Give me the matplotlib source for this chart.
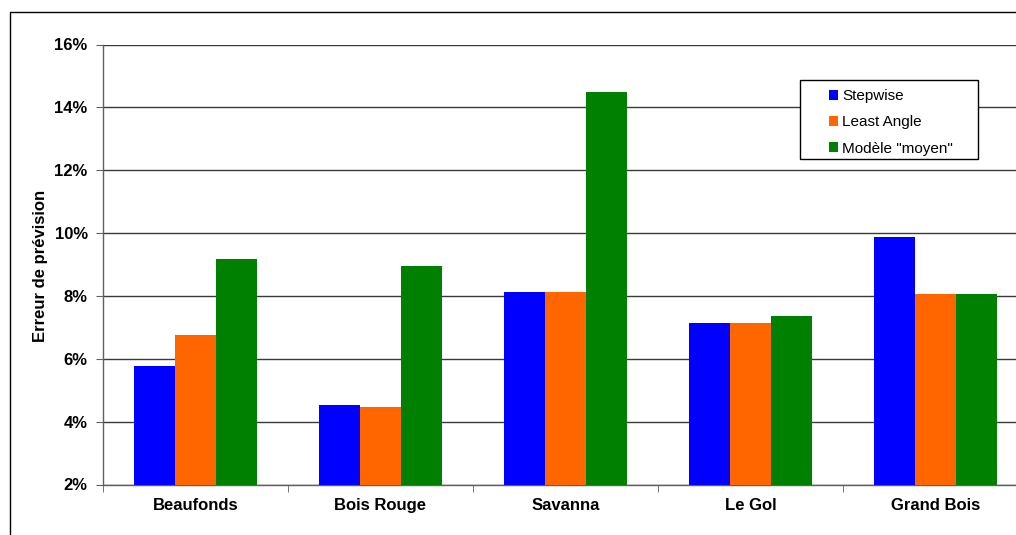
import numpy as np
import matplotlib
matplotlib.use('Agg')
import matplotlib.pyplot as plt
from matplotlib.patches import Rectangle
from matplotlib.ticker import FixedLocator, PercentFormatter

plt.rcParams['font.family'] = ['Liberation Sans', 'DejaVu Sans']

sites = ['Beaufonds', 'Bois Rouge', 'Savanna', 'Le Gol', 'Grand Bois']
stepwise = [5.77, 4.52, 8.13, 7.13, 9.86]
least_angle = [6.77, 4.47, 8.13, 7.15, 8.07]
moyen = [9.19, 8.95, 14.48, 7.37, 8.07]

series = [('Stepwise', stepwise, '#0000FF'),
          ('Least Angle', least_angle, '#FF6600'),
          ('Modèle "moyen"', moyen, '#008000')]

W, H = 1016, 535
fig = plt.figure(figsize=(W / 100, H / 100), dpi=100)

# zone de tracé (en pixels)
x0, x1 = 103, 1028
y_top, y_bot = 44.5, 484.5
ax = fig.add_axes([x0 / W, 1 - y_bot / H, (x1 - x0) / W, (y_bot - y_top) / H])

x = np.arange(len(sites))
bw = 0.222
for i, (label, vals, col) in enumerate(series):
    ax.bar(x + (i - 1) * bw, np.array(vals) - 2, bw, bottom=2, color=col,
           label=label, zorder=3, linewidth=0)

ax.set_xlim(-0.5, 4.5)
ax.set_ylim(2, 16)
ax.set_yticks(np.arange(2, 17, 2))
ax.yaxis.set_major_formatter(PercentFormatter(decimals=0))
ax.yaxis.grid(True, color='#3a3a3a', linewidth=1, zorder=0)

ax.set_xticks(x)
ax.set_xticklabels(sites, fontsize=12, fontweight='bold')
ax.xaxis.set_minor_locator(FixedLocator(np.arange(-0.5, 5, 1)))
ax.tick_params(axis='x', which='major', length=0, pad=10)
ax.tick_params(axis='x', which='minor', length=5, color='#606060')
ax.tick_params(axis='y', length=5, color='#606060', pad=6, labelsize=12)
for t in ax.get_yticklabels():
    t.set_fontweight('bold')

for s in ['top', 'right']:
    ax.spines[s].set_visible(False)
for s in ['left', 'bottom']:
    ax.spines[s].set_color('#606060')
    ax.spines[s].set_linewidth(1)

fig.text(41 / W, 1 - 266 / H, 'Erreur de prévision', rotation=90,
         ha='center', va='center', fontsize=12, fontweight='bold')

# légende
leg = fig.legend(loc='upper left', bbox_to_anchor=(817 / W, 1 - 77 / H),
                 frameon=False, fontsize=11, handlelength=0.6, handleheight=0.6,
                 handletextpad=0.25, labelspacing=0.8, borderpad=0.3)
fig.add_artist(Rectangle((800 / W, 1 - 159 / H), 178 / W, 79 / H,
                         transform=fig.transFigure, fill=False,
                         edgecolor='black', linewidth=1, zorder=5))
ax.add_patch(Rectangle((800 / W, 1 - 159 / H), 178 / W, 79 / H,
                       transform=fig.transFigure, facecolor='white',
                       edgecolor='none', zorder=4, clip_on=False))

# cadre extérieur
fig.add_artist(Rectangle((10 / W, -0.1), 1.2, 0.1 + (H - 11.5) / H,
                         transform=fig.transFigure, fill=False,
                         edgecolor='black', linewidth=1))

fig.savefig('out.png', dpi=100)
